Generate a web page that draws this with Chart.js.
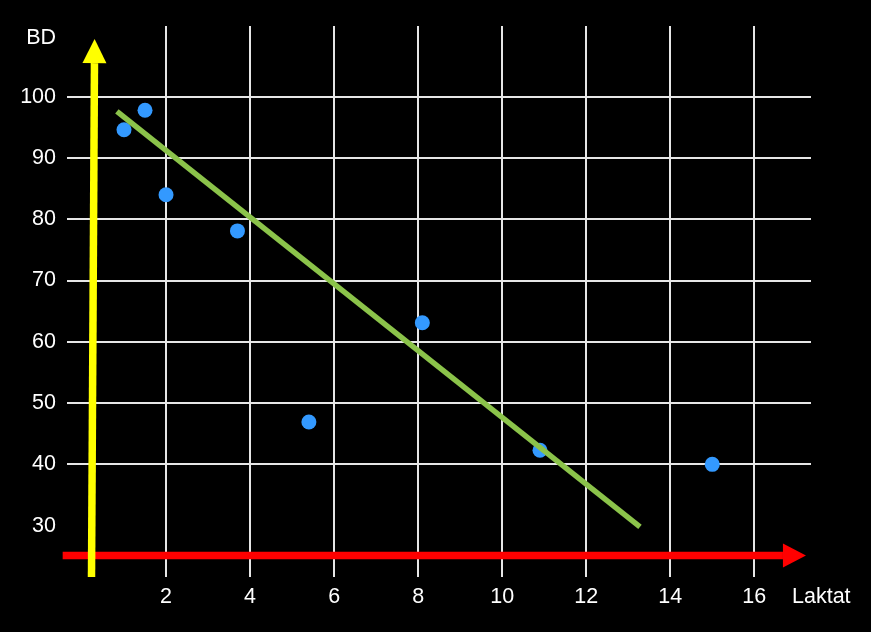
<!DOCTYPE html>
<html>
<head>
<meta charset="utf-8">
<script src="https://cdn.jsdelivr.net/npm/chart.js@4/dist/chart.umd.min.js"></script>
<style>
    html, body { margin: 0; padding: 0; background: #000; }
    #wrap { width: 871px; height: 632px; position: relative; }
</style>
</head>
<body>
<div id="wrap"><canvas id="plot"></canvas></div>
<script>
'use strict';

const laktat = [1.0, 1.5, 2.0, 3.7, 5.4, 8.1, 10.9, 15.0];
const bd = [94.6, 97.8, 84.0, 78.1, 46.9, 63.1, 42.3, 40.0];

// fitted trend line, start and end point
const trendX = [0.83, 13.28];
const trendY = [97.6, 29.8];

const xTicks = [2, 4, 6, 8, 10, 12, 14, 16];
const yTicks = [30, 40, 50, 60, 70, 80, 90, 100];

const xTitle = "Laktat";
const yTitle = "BD";

const FONT = { family: "'Liberation Sans', Arial, sans-serif", size: 21.5 };

// hand drawn axis arrows, in data units
const yArrow = { x0: 0.226, y0: 21.6, x1: 0.30, y1: 109.4, color: "#ffff00", width: 7.5, head: 24, headLen: 24 };
const xArrow = { x0: -0.46, y0: 25.1, x1: 17.23, y1: 25.1, color: "#ff0000", width: 7.5, head: 24, headLen: 23 };

function drawArrow(ctx, chart, a) {
    const xs = chart.scales.x, ys = chart.scales.y;
    const px0 = xs.getPixelForValue(a.x0), py0 = ys.getPixelForValue(a.y0);
    const px1 = xs.getPixelForValue(a.x1), py1 = ys.getPixelForValue(a.y1);
    const ang = Math.atan2(py1 - py0, px1 - px0);
    const bx = px1 - Math.cos(ang) * a.headLen, by = py1 - Math.sin(ang) * a.headLen;
    const nx = -Math.sin(ang), ny = Math.cos(ang);

    ctx.save();
    ctx.strokeStyle = a.color;
    ctx.fillStyle = a.color;
    ctx.lineWidth = a.width;
    ctx.lineCap = "butt";
    ctx.beginPath();
    ctx.moveTo(px0, py0);
    ctx.lineTo(bx, by);
    ctx.stroke();
    ctx.beginPath();
    ctx.moveTo(px1, py1);
    ctx.lineTo(bx + nx * a.head / 2, by + ny * a.head / 2);
    ctx.lineTo(bx - nx * a.head / 2, by - ny * a.head / 2);
    ctx.closePath();
    ctx.fill();
    ctx.restore();
}

const axisArrows = {
    id: "axisArrows",
    beforeDatasetsDraw(chart) {
        const ctx = chart.ctx;
        drawArrow(ctx, chart, xArrow);
        drawArrow(ctx, chart, yArrow);
    },
    afterDraw(chart) {
        const ctx = chart.ctx;
        const area = chart.chartArea;
        ctx.save();
        ctx.fillStyle = "#ffffff";
        ctx.font = `${FONT.size}px ${FONT.family}`;
        ctx.textBaseline = "middle";
        ctx.textAlign = "left";
        ctx.fillText(xTitle, area.right - 19, area.bottom + 20);
        ctx.textAlign = "right";
        ctx.fillText(yTitle, area.left - 11, 38);
        ctx.restore();
    }
};

const points = laktat.map((x, i) => ({ x, y: bd[i] }));
const trend = trendX.map((x, i) => ({ x, y: trendY[i] }));

new Chart(document.getElementById("plot"), {
    type: "scatter",
    data: {
        datasets: [
            {
                type: "line",
                data: trend,
                borderColor: "#8bc34a",
                borderWidth: 5.5,
                pointRadius: 0,
                showLine: true,
                fill: false,
                order: 0
            },
            {
                data: points,
                backgroundColor: "#3399ff",
                borderWidth: 0,
                pointRadius: 7.5,
                order: 1
            }
        ]
    },
    options: {
        responsive: true,
        maintainAspectRatio: false,
        animation: false,
        layout: { padding: { top: 26, right: 60, left: 0, bottom: 0 } },
        plugins: { legend: { display: false }, tooltip: { enabled: false } },
        scales: {
            x: {
                type: "linear",
                min: -0.357,
                max: 17.35,
                afterBuildTicks: scale => { scale.ticks = xTicks.map(v => ({ value: v })); },
                afterFit: scale => { scale.height = 55; },
                grid: { color: "#e6e6e6", lineWidth: 2, drawTicks: false },
                border: { display: false },
                ticks: { color: "#ffffff", font: FONT, padding: 7, maxRotation: 0 }
            },
            y: {
                type: "linear",
                min: 21.61,
                max: 111.54,
                afterBuildTicks: scale => { scale.ticks = yTicks.map(v => ({ value: v })); },
                afterFit: scale => { scale.width = 67; },
                grid: {
                    color: c => (c.tick && c.tick.value === 30 ? "rgba(0,0,0,0)" : "#e6e6e6"),
                    lineWidth: 2,
                    drawTicks: false
                },
                border: { display: false },
                ticks: { color: "#ffffff", font: FONT, padding: 11 }
            }
        }
    },
    plugins: [axisArrows]
});
</script>
</body>
</html>
